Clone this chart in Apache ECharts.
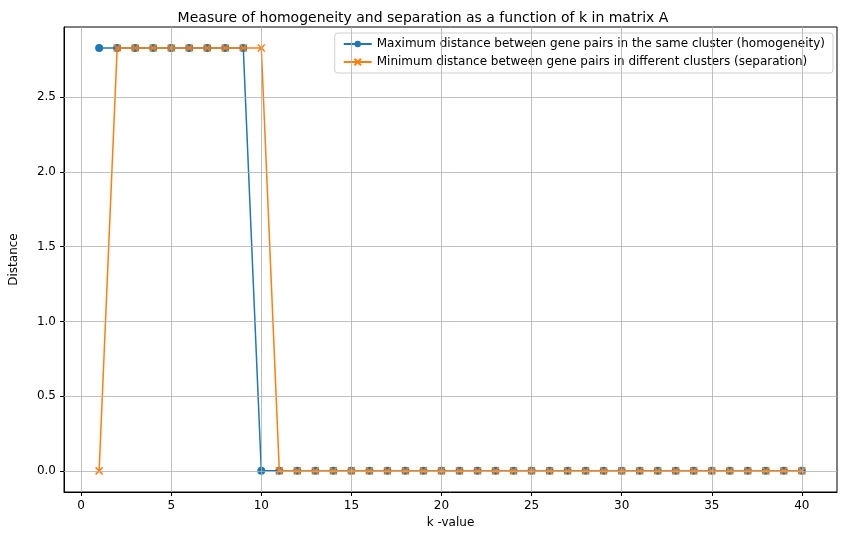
<!DOCTYPE html>
<html>
<head>
  <meta charset="utf-8">
  <script src="https://cdn.jsdelivr.net/npm/echarts@6/dist/echarts.min.js"></script>
</head>
<body style="margin:0">
  <div id="container" style="width:846px;height:545px"></div>
  <script>
    var kValues = [];
    for (var i = 1; i <= 40; i++) kValues.push(i);
    var homogeneity = [2.83, 2.83, 2.83, 2.83, 2.83, 2.83, 2.83, 2.83, 2.83,
      0, 0, 0, 0, 0, 0, 0, 0, 0, 0, 0, 0, 0, 0, 0, 0, 0, 0, 0, 0, 0, 0, 0, 0, 0, 0, 0, 0, 0, 0, 0];
    var separation = [0, 2.83, 2.83, 2.83, 2.83, 2.83, 2.83, 2.83, 2.83, 2.83,
      0, 0, 0, 0, 0, 0, 0, 0, 0, 0, 0, 0, 0, 0, 0, 0, 0, 0, 0, 0, 0, 0, 0, 0, 0, 0, 0, 0, 0, 0];
    var xTicks = [0, 5, 10, 15, 20, 25, 30, 35, 40];
    var yTicks = [0, 0.5, 1.0, 1.5, 2.0, 2.5];

    var xMark = 'path://M0,0L10,10M10,0L0,10';
    var gridStyle = { color: '#b0b0b0', width: 0.8, type: 'solid' };
    var font = 'DejaVu Sans';

    var chart = echarts.init(document.getElementById('container'));
    chart.setOption({
      animation: false,
      textStyle: { fontFamily: font },
      title: {
        text: 'Measure of homogeneity and separation as a function of k in matrix A',
        left: 'center', top: 6,
        textStyle: { fontSize: 14, fontWeight: 'normal', color: '#000', fontFamily: font }
      },
      legend: {
        orient: 'vertical', right: 13, top: 33,
        backgroundColor: 'rgba(255,255,255,0.85)', borderColor: '#d0d0d0', borderWidth: 1,
        borderRadius: 3, padding: [5, 8], itemGap: 6, itemWidth: 28, itemHeight: 8,
        textStyle: { fontSize: 12, color: '#000', fontFamily: font }
      },
      grid: { left: 62, right: 9, top: 27, bottom: 53, show: true, borderColor: '#000', borderWidth: 1 },
      xAxis: {
        type: 'value', min: -0.95, max: 41.95,
        name: 'k -value', nameLocation: 'middle', nameGap: 24,
        nameTextStyle: { fontSize: 12, color: '#000' },
        axisLine: { onZero: false, lineStyle: { color: '#000' } },
        axisTick: { customValues: xTicks, length: 4, lineStyle: { color: '#000' } },
        axisLabel: { customValues: xTicks, color: '#000', fontSize: 12 },
        splitLine: { show: false }
      },
      yAxis: {
        type: 'value', min: -0.1415, max: 2.97,
        name: 'Distance', nameLocation: 'middle', nameGap: 44,
        nameTextStyle: { fontSize: 12, color: '#000' },
        axisLine: { show: true, onZero: false, lineStyle: { color: '#000' } },
        axisTick: { show: true, customValues: yTicks, length: 4, lineStyle: { color: '#000' } },
        axisLabel: { customValues: yTicks, color: '#000', fontSize: 12,
          formatter: function (v) { return v.toFixed(1); } },
        splitLine: { show: false }
      },
      series: [
        {
          name: 'Maximum distance between gene pairs in the same cluster (homogeneity)',
          type: 'line', color: '#1f77b4', symbol: 'circle', symbolSize: 8,
          itemStyle: { color: '#1f77b4' },
          lineStyle: { width: 1.5, color: '#1f77b4' },
          data: kValues.map(function (k, i) { return [k, homogeneity[i]]; }),
          markLine: {
            silent: true, symbol: 'none', label: { show: false }, lineStyle: gridStyle,
            data: xTicks.map(function (v) { return { xAxis: v }; })
              .concat(yTicks.map(function (v) { return { yAxis: v }; }))
          },
          z: 3
        },
        {
          name: 'Minimum distance between gene pairs in different clusters (separation)',
          type: 'line', color: '#ff7f0e', symbol: xMark, symbolSize: 7,
          itemStyle: { color: '#ff7f0e', borderColor: '#ff7f0e', borderWidth: 1.5 },
          lineStyle: { width: 1.5, color: '#ff7f0e' },
          data: kValues.map(function (k, i) { return [k, separation[i]]; }),
          z: 4
        }
      ]
    });
  </script>
</body>
</html>
